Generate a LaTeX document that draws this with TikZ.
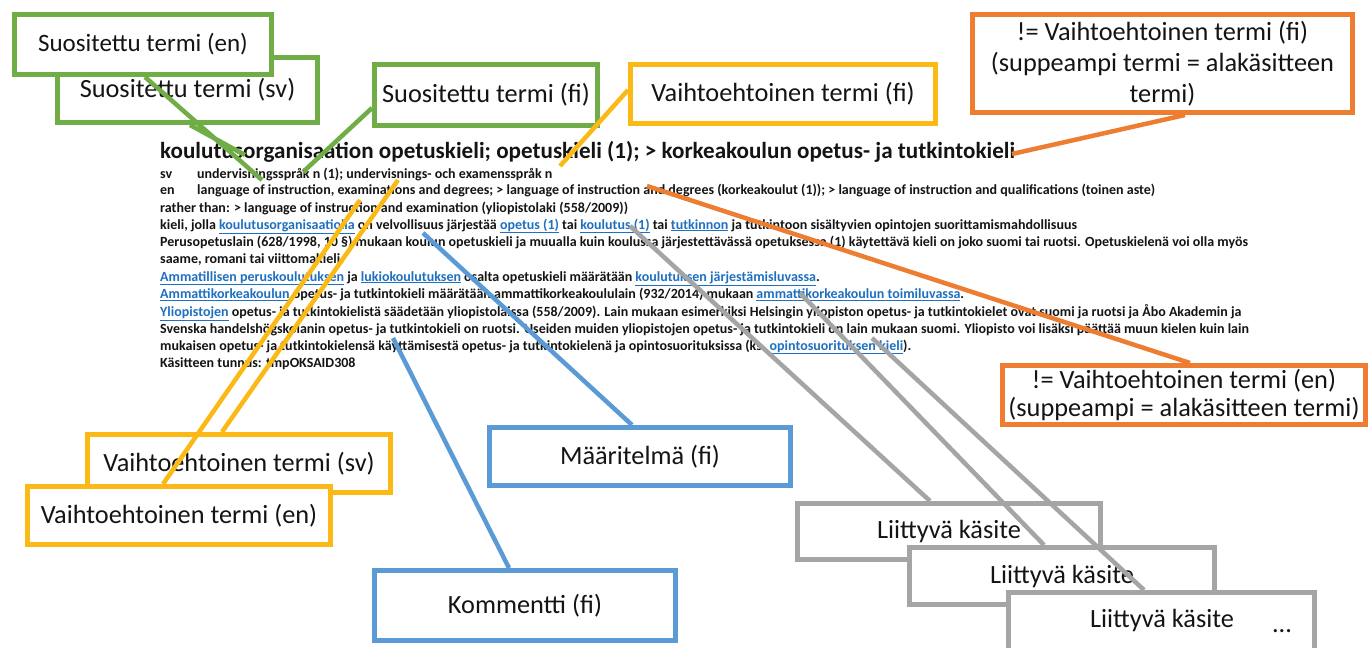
\documentclass[tikz,border=0pt]{standalone}
\usepackage{fontspec}
\setmainfont{Carlito}
\definecolor{cgreen}{RGB}{112,173,71}
\definecolor{cgold}{RGB}{250,185,20}
\definecolor{corange}{RGB}{237,125,49}
\definecolor{cblue}{RGB}{91,155,213}
\definecolor{cgray}{RGB}{165,165,165}
\definecolor{clink}{RGB}{30,112,192}
\definecolor{ctext}{RGB}{20,20,20}
\newcommand\lnk[1]{\textcolor{clink}{\underline{#1}}}
\begin{document}
\begin{tikzpicture}[x=1pt,y=-1pt,
  box/.style={draw=#1, line width=5pt, fill=white, inner sep=0pt, align=center,
    font=\fontsize{26.3}{31}\selectfont, text=ctext},
  conn/.style={line width=4.5pt},
  body/.style={anchor=base west, inner sep=0pt, font=\fontsize{14}{16}\selectfont\bfseries, text=ctext},
  head/.style={anchor=base west, inner sep=0pt, font=\fontsize{23.1}{26}\selectfont\bfseries, text=ctext},
  plain/.style={inner sep=0pt, font=\fontsize{26.3}{31}\selectfont, text=ctext}]
\useasboundingbox (0,0) rectangle (1371,648);
\fill[white] (0,0) rectangle (1371,648);

% text block
\node[head] (t0) at (160,158) {koulutusorganisaation opetuskieli; opetuskieli (1); > korkeakoulun opetus- ja tutkintokieli};
\node[body] (t1) at (160,178) {\makebox[37pt][l]{sv}undervisningsspråk n (1); undervisnings- och examensspråk n};
\node[body] (t2) at (160,194.5) {\makebox[37pt][l]{en}language of instruction, examinations and degrees; > language of instruction and degrees (korkeakoulut (1)); > language of instruction and qualifications (toinen aste)};
\node[body] (t3) at (160,212) {rather than: > language of instruction and examination (yliopistolaki (558/2009))};
\node[body] (t4) at (160,229) {kieli, jolla \lnk{koulutusorganisaatiolla} on velvollisuus järjestää \lnk{opetus (1)} tai \lnk{koulutus (1)} tai \lnk{tutkinnon} ja tutkintoon sisältyvien opintojen suorittamismahdollisuus};
\node[body] (t5) at (160,246) {Perusopetuslain (628/1998, 10 §) mukaan koulun opetuskieli ja muualla kuin koulussa järjestettävässä opetuksessa (1) käytettävä kieli on joko suomi tai ruotsi. Opetuskielenä voi olla myös};
\node[body] (t6) at (160,263) {saame, romani tai viittomakieli.};
\node[body] (t7) at (160,281) {\lnk{Ammatillisen peruskoulutuksen} ja \lnk{lukiokoulutuksen} osalta opetuskieli määrätään \lnk{koulutuksen järjestämisluvassa}.};
\node[body] (t8) at (160,298.5) {\lnk{Ammattikorkeakoulun} opetus- ja tutkintokieli määrätään ammattikorkeakoululain (932/2014) mukaan \lnk{ammattikorkeakoulun toimiluvassa}.};
\node[body] (t9) at (160,316) {\lnk{Yliopistojen} opetus- ja tutkintokielistä säädetään yliopistolaissa (558/2009). Lain mukaan esimerkiksi Helsingin yliopiston opetus- ja tutkintokielet ovat suomi ja ruotsi ja Åbo Akademin ja};
\node[body] (t10) at (160,333) {Svenska handelshögskolanin opetus- ja tutkintokieli on ruotsi. Useiden muiden yliopistojen opetus- ja tutkintokieli on lain mukaan suomi. Yliopisto voi lisäksi päättää muun kielen kuin lain};
\node[body] (t11) at (160,350) {mukaisen opetus- ja tutkintokielensä käyttämisestä opetus- ja tutkintokielenä ja opintosuorituksissa (ks. \lnk{opintosuorituksen kieli}).};
\node[body] (t12) at (160,367) {Käsitteen tunnus: tmpOKSAID308};

% boxes
\node[box=cgreen, minimum width=260, minimum height=65] (sSv) at (187.5,90) {Suositettu termi (sv)};
\node[box=cgreen, minimum width=257, minimum height=60, font=\fontsize{25}{30}\selectfont] (sEn) at (143,44.5) {Suositettu termi (en)};
\node[box=cgreen, minimum width=223, minimum height=61] (sFi) at (486,95) {Suositettu termi (fi)};
\node[box=cgold, minimum width=305, minimum height=59] (aFi) at (783,94) {Vaihtoehtoinen termi (fi)};
\node[box=corange, minimum width=380, minimum height=98] (nFi) at (1162.5,63.5) {!= Vaihtoehtoinen termi (fi)\\(suppeampi termi = alakäsitteen\\termi)};
\node[box=corange, minimum width=363, minimum height=59, font=\fontsize{26.3}{28}\selectfont] (nEn) at (1184,395) {!= Vaihtoehtoinen termi (en)\\(suppeampi = alakäsitteen termi)};
\node[box=cblue, minimum width=301, minimum height=58] (def) at (640,456.5) {Määritelmä (fi)};
\node[box=cgold, minimum width=303, minimum height=58] (aSv) at (239,463.5) {Vaihtoehtoinen termi (sv)};
\node[box=cgold, minimum width=303, minimum height=58] (aEn) at (179,515.5) {Vaihtoehtoinen termi (en)};
\node[box=cblue, minimum width=301, minimum height=70] (com) at (525,605.5) {Kommentti (fi)};
\node[box=cgray, minimum width=303, minimum height=56] (r1) at (949,531.5) {Liittyvä käsite};
\node[box=cgray, minimum width=305, minimum height=57] (r2) at (1062,576) {Liittyvä käsite};
\node[box=cgray, minimum width=306, minimum height=70] (r3) at (1161.5,627.5) {};
\node[plain] (r3t) at (1162,620) {Liittyvä käsite};
\node[plain] (dots) at (1282,631) {...};

% connector targets in the text
\coordinate (gEn) at (262,180);
\coordinate (gSv) at (245,155);
\coordinate (gFi) at (303,172);
\coordinate (yFi) at (560,166);
\coordinate (ySv) at (398,180);
\coordinate (yEn) at (360,200);
\coordinate (oFi) at (1012,154);
\coordinate (oEn) at (647,186);
\coordinate (bDef) at (423,233);
\coordinate (bCom) at (393,338);
\coordinate (k1) at (630,226);
\coordinate (k2) at (800,293);
\coordinate (k3) at (872,338);

% connectors
\draw[conn, cgreen] (145,0 |- sEn.south) -- (gEn);
\draw[conn, cgreen] (190,0 |- sSv.south) -- (gSv);
\draw[conn, cgreen] (sFi.west |- 0,108) -- (gFi);
\draw[conn, cgold] (aFi.west |- 0,90) -- (yFi);
\draw[conn, cgold] (222,0 |- aSv.north) -- (ySv);
\draw[conn, cgold] (163,0 |- aEn.north) -- (yEn);
\draw[conn, corange] (1185,0 |- nFi.south) -- (oFi);
\draw[conn, corange] (1190,0 |- nEn.north) -- (oEn);
\draw[conn, cblue] (632,0 |- def.north) -- (bDef);
\draw[conn, cblue] (509,0 |- com.north) -- (bCom);
\draw[conn, cgray] (930,0 |- r1.north) -- (k1);
\draw[conn, cgray] (1044,0 |- r2.north) -- (k2);
\draw[conn, cgray] (1144,0 |- r3.north) -- (k3);
\end{tikzpicture}
\end{document}
